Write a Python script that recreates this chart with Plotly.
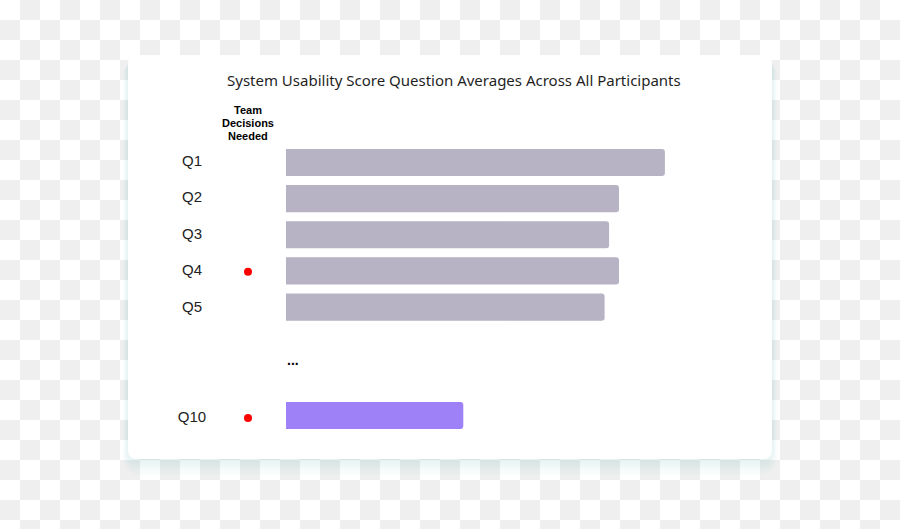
import plotly.graph_objects as go

# ---------------- data ----------------
questions = ["Q1", "Q2", "Q3", "Q4", "Q5", "Q10"]
scores = [4.21, 3.70, 3.59, 3.70, 3.54, 1.97]
decision_needed = [False, False, False, True, False, True]
highlight = [False, False, False, False, False, True]
row_order = ["Q1", "Q2", "Q3", "Q4", "Q5", " ", "  ", "Q10"]  # blank rows hold the ellipsis gap

title_text = "System Usability Score Question Averages Across All Participants"
header_lines = ["Team", "Decisions", "Needed"]

W, H = 900, 529
GRAY_BAR = "#b7b3c5"
PURPLE_BAR = "#9e80f7"


def px(x):
    return x / W


def py(y):
    return 1 - y / H


def rounded_rect_path(x0, y0, x1, y1, r):
    pts = [
        f"M {px(x0 + r)},{py(y0)}",
        f"L {px(x1 - r)},{py(y0)}",
        f"Q {px(x1)},{py(y0)} {px(x1)},{py(y0 + r)}",
        f"L {px(x1)},{py(y1 - r)}",
        f"Q {px(x1)},{py(y1)} {px(x1 - r)},{py(y1)}",
        f"L {px(x0 + r)},{py(y1)}",
        f"Q {px(x0)},{py(y1)} {px(x0)},{py(y1 - r)}",
        f"L {px(x0)},{py(y0 + r)}",
        f"Q {px(x0)},{py(y0)} {px(x0 + r)},{py(y0)}",
        "Z",
    ]
    return " ".join(pts)


shapes = []
# checkerboard background (transparent-PNG look)
cell = 20
for r in range(0, H // cell + 1):
    for c in range(0, W // cell + 1):
        if (r + c) % 2 == 1:
            shapes.append(dict(
                type="rect", xref="paper", yref="paper", layer="below",
                x0=px(c * cell), x1=px(min((c + 1) * cell, W)),
                y0=py(min((r + 1) * cell, H)), y1=py(r * cell),
                fillcolor="#efefef", line=dict(width=0),
            ))

# card shadow (soft, mostly below)
card = (128, 55, 772, 459)
for i in range(12, 0, -1):
    shapes.append(dict(
        type="path", xref="paper", yref="paper", layer="below",
        path=rounded_rect_path(card[0] - i * 0.45, card[1] + 4,
                               card[2] + i * 0.45, card[3] + i * 1.4, 9 + i),
        fillcolor="rgba(120,130,140,0.013)", line=dict(width=0),
    ))
# card
shapes.append(dict(
    type="path", xref="paper", yref="paper", layer="below",
    path=rounded_rect_path(*card, 9),
    fillcolor="#ffffff", line=dict(width=0),
))

fig = go.Figure()

# bars
fig.add_trace(go.Bar(
    x=scores, y=questions, orientation="h", width=0.75,
    marker=dict(color=[PURPLE_BAR if h else GRAY_BAR for h in highlight], line=dict(width=0)),
    xaxis="x", yaxis="y", hoverinfo="x+y", showlegend=False,
))

# question labels
fig.add_trace(go.Scatter(
    x=[192] * len(questions), y=questions, mode="text", text=questions,
    textposition="middle center",
    textfont=dict(family="Liberation Sans, Arial, sans-serif", size=15, color="#222222"),
    xaxis="x2", yaxis="y2", hoverinfo="skip", showlegend=False,
))

# decision markers
dq = [q for q, d in zip(questions, decision_needed) if d]
fig.add_trace(go.Scatter(
    x=[248] * len(dq), y=dq, mode="markers",
    marker=dict(color="#ff0000", size=8, line=dict(width=0)),
    xaxis="x2", yaxis="y2", hoverinfo="y", showlegend=False,
))

bar_top, bar_bot = 144.4, 433.6
lab_top, lab_bot = 143.8, 436.2

annotations = [
    dict(text=title_text, xref="paper", yref="paper", x=px(454), y=py(80),
         xanchor="center", yanchor="middle", showarrow=False,
         font=dict(family="Noto Sans, sans-serif", size=15, color="#1f1f1f")),
    dict(text="<b>...</b>", xref="x2", yref="y", x=293, y=5.5,
         xanchor="center", yanchor="middle", showarrow=False, yshift=1,
         font=dict(family="Liberation Sans, Arial, sans-serif", size=14, color="#000000")),
]
for k, line in enumerate(header_lines):
    annotations.append(dict(
        text=f"<b>{line}</b>", xref="x2", yref="paper", x=248, y=py(110 + 13 * k),
        xanchor="center", yanchor="middle", showarrow=False,
        font=dict(family="Liberation Sans, Arial, sans-serif", size=11, color="#000000")))

fig.update_layout(
    width=W, height=H,
    margin=dict(l=0, r=0, t=0, b=0),
    paper_bgcolor="#ffffff",
    plot_bgcolor="rgba(0,0,0,0)",
    barcornerradius=3,
    shapes=shapes,
    annotations=annotations,
    xaxis=dict(domain=[px(286), px(736)], range=[0, 5], visible=False, fixedrange=True),
    xaxis2=dict(domain=[0, 1], range=[0, W], visible=False, anchor="y2", fixedrange=True),
    yaxis=dict(domain=[py(bar_bot), py(bar_top)], type="category", categoryorder="array",
               categoryarray=row_order, range=[7.5, -0.5], visible=False, fixedrange=True),
    yaxis2=dict(domain=[py(lab_bot), py(lab_top)], type="category", categoryorder="array",
                categoryarray=row_order, range=[7.5, -0.5], visible=False, fixedrange=True,
                anchor="x2"),
)

fig.write_html("out.html")
